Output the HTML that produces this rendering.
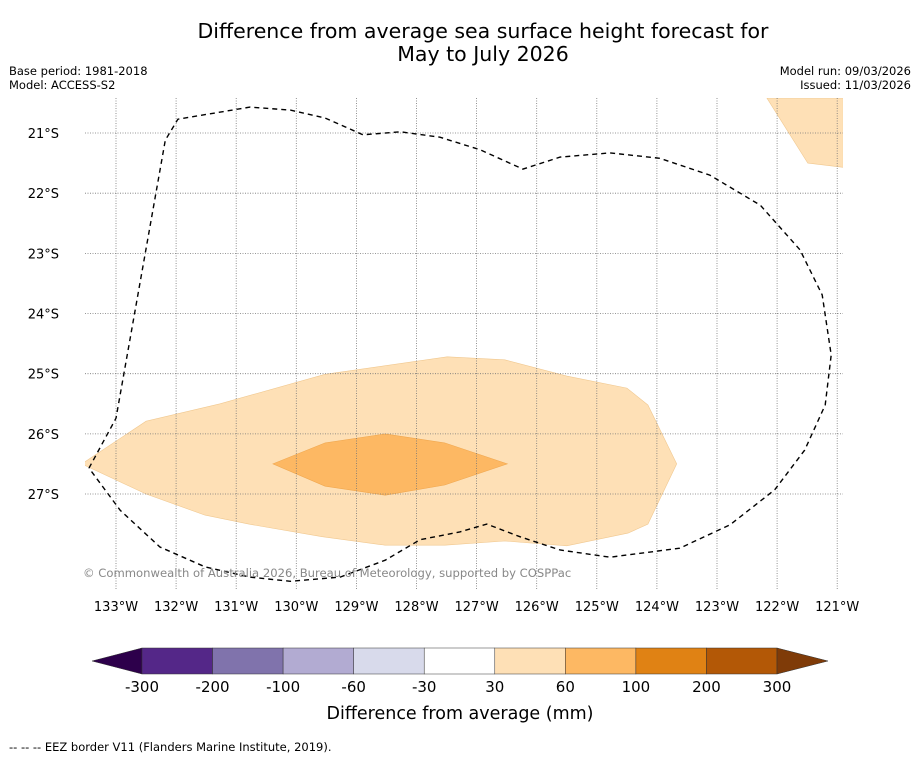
<!DOCTYPE html>
<html><head><meta charset="utf-8">
<style>
body{margin:0;background:#fff;width:919px;height:758px;overflow:hidden;font-family:"Liberation Sans","DejaVu Sans",sans-serif;}
</style></head>
<body>
<svg id="chart" width="919" height="758" xmlns="http://www.w3.org/2000/svg" font-family="DejaVu Sans, Liberation Sans, sans-serif">
<text x="483" y="38" font-size="20.5" text-anchor="middle">Difference from average sea surface height forecast for</text>
<text x="483" y="61" font-size="20.5" text-anchor="middle">May to July 2026</text>
<text x="9" y="75" font-size="11.5">Base period: 1981-2018</text>
<text x="9" y="89" font-size="11.5">Model: ACCESS-S2</text>
<text x="911" y="75" font-size="11.5" text-anchor="end">Model run: 09/03/2026</text>
<text x="911" y="89" font-size="11.5" text-anchor="end">Issued: 11/03/2026</text>
<defs><clipPath id="mapclip"><rect x="85" y="98" width="758" height="492"/></clipPath></defs>
<g id="map" clip-path="url(#mapclip)"></g>
<g id="axes"></g>
<text x="83" y="577" font-size="11.6" fill="#888">© Commonwealth of Australia 2026, Bureau of Meteorology, supported by COSPPac</text>
<g id="cbar"></g>
<text x="460" y="719" font-size="17.5" text-anchor="middle">Difference from average (mm)</text>
<text x="9" y="751" font-size="11.5">--  --  -- EEZ border V11 (Flanders Marine Institute, 2019).</text>
</svg>
<script>
const lonTicks=[-133,-132,-131,-130,-129,-128,-127,-126,-125,-124,-123,-122,-121];
const latTicks=[-21,-22,-23,-24,-25,-26,-27];
const contour30Lon=[-133.57,-132.50,-131.27,-129.52,-127.49,-126.53,-125.50,-124.50,-124.15,-123.67,-124.15,-124.48,-125.50,-126.53,-127.53,-128.52,-129.57,-130.79,-131.52,-132.50];
const contour30Lat=[-26.50,-25.79,-25.50,-25.01,-24.72,-24.77,-25.04,-25.24,-25.52,-26.50,-27.50,-27.65,-27.86,-27.78,-27.85,-27.85,-27.71,-27.50,-27.35,-27.00];
const contour60Lon=[-130.39,-129.52,-128.52,-127.53,-126.49,-127.53,-128.52,-129.52];
const contour60Lat=[-26.50,-26.15,-26.00,-26.15,-26.50,-26.85,-27.02,-26.87];
const cornerLon=[-122.17,-121.49,-120.90,-120.90];
const cornerLat=[-20.42,-21.50,-21.57,-20.42];
const eezLon=[-133.45,-133.00,-132.18,-131.97,-130.77,-130.10,-129.52,-128.89,-128.27,-127.61,-126.94,-126.23,-125.61,-124.78,-123.95,-123.12,-122.28,-121.62,-121.25,-121.10,-121.20,-121.54,-122.04,-122.78,-123.62,-124.78,-125.61,-126.28,-126.83,-127.28,-127.94,-128.52,-129.27,-130.10,-130.77,-131.52,-132.27,-132.93,-133.45];
const eezLat=[-26.57,-25.74,-21.12,-20.77,-20.57,-20.62,-20.75,-21.03,-20.98,-21.07,-21.28,-21.60,-21.40,-21.33,-21.42,-21.70,-22.20,-22.94,-23.69,-24.69,-25.52,-26.27,-26.93,-27.51,-27.90,-28.05,-27.93,-27.71,-27.50,-27.63,-27.76,-28.10,-28.38,-28.45,-28.38,-28.21,-27.88,-27.27,-26.57];
const cbLabels=["-300","-200","-100","-60","-30","30","60","100","200","300"];
const cbColors=["#542788","#8073ac","#b2abd2","#d8daeb","#ffffff","#fee0b6","#fdb863","#e08214","#b35806"];
const cbMin="#2d004b", cbMax="#7f3b08";

const NS="http://www.w3.org/2000/svg";
const xS=lon=>116+(lon+133)*60.1;
const yS=lat=>133+(-21-lat)*60.17;
function mk(tag,attrs,parent){const e=document.createElementNS(NS,tag);for(const k in attrs)e.setAttribute(k,attrs[k]);parent.appendChild(e);return e;}
const map=document.getElementById('map'),axes=document.getElementById('axes'),cbar=document.getElementById('cbar');
function pts(lo,la){return lo.map((v,i)=>xS(v).toFixed(1)+","+yS(la[i]).toFixed(1)).join(" ");}

let p=mk('polygon',{points:pts(contour30Lon,contour30Lat),fill:'#fee0b6',stroke:'#f0c890','stroke-width':0.6},map);


p=mk('polygon',{points:pts(contour60Lon,contour60Lat),fill:'#fdb863',stroke:'#f0a850','stroke-width':0.6},map);


p=mk('polygon',{points:pts(cornerLon,cornerLat),fill:'#fee0b6',stroke:'#f0c890','stroke-width':0.6},map);



lonTicks.forEach(l=>{
  const x=xS(l);
  let g=mk('line',{x1:x,x2:x,y1:98,y2:590,stroke:'#777','stroke-width':0.8,'stroke-dasharray':'1,1.5'},map);
  
  
  let t=mk('text',{x:x,y:611,'font-size':13,'text-anchor':'middle'},axes);
  t.textContent=Math.abs(l)+"°W";
  
  
});
latTicks.forEach(l=>{
  const y=yS(l);
  let g=mk('line',{x1:85,x2:843,y1:y,y2:y,stroke:'#777','stroke-width':0.8,'stroke-dasharray':'1,1.5'},map);
  
  
  let t=mk('text',{x:59,y:y+5,'font-size':13,'text-anchor':'end'},axes);
  t.textContent=Math.abs(l)+"°S";
  
  
});
p=mk('polyline',{points:pts(eezLon,eezLat),fill:'none',stroke:'#000','stroke-width':1.4,'stroke-dasharray':'5,4'},map);



const cx0=142,cw=(777-142)/cbColors.length,cy=648,ch=26;
let tri=mk('polygon',{points:`92,${cy+ch/2} ${cx0},${cy} ${cx0},${cy+ch}`,fill:cbMin,stroke:'#333','stroke-width':0.5},cbar);


cbColors.forEach((c,i)=>{
  let r=mk('rect',{x:cx0+i*cw,y:cy,width:cw,height:ch,fill:c,stroke:'#333','stroke-width':0.5},cbar);
  
  
});
const xe=cx0+cbColors.length*cw;
tri=mk('polygon',{points:`${xe},${cy} ${xe+51},${cy+ch/2} ${xe},${cy+ch}`,fill:cbMax,stroke:'#333','stroke-width':0.5},cbar);


cbLabels.forEach((l,i)=>{
  let t=mk('text',{x:cx0+i*cw,y:692,'font-size':15,'text-anchor':'middle'},cbar);
  t.textContent=l;
  
  
});
</script>
</body></html>
